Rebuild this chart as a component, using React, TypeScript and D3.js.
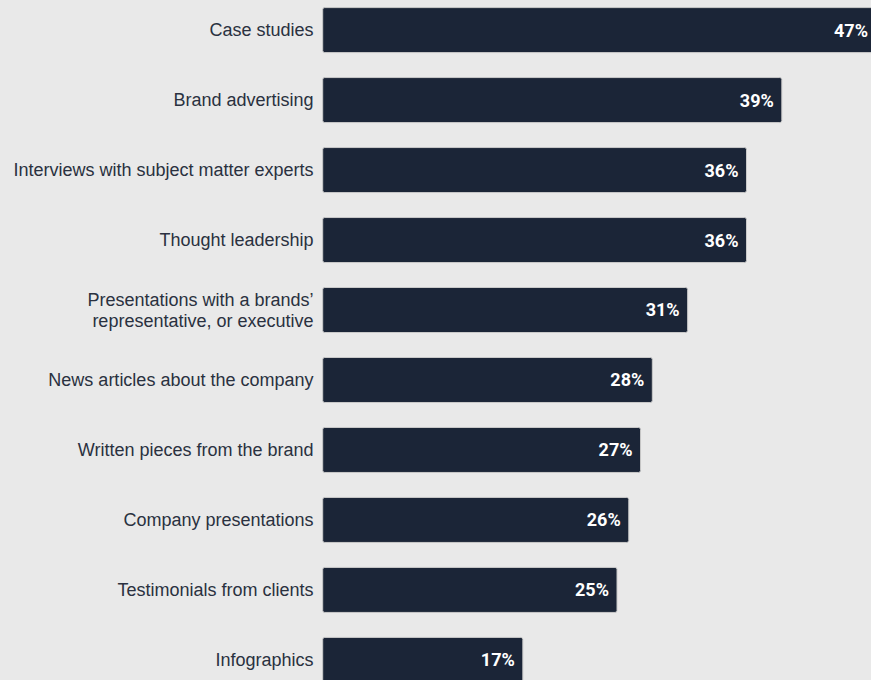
import React from "react";
import * as d3 from "d3";

const categories: string[][] = [
  ["Case studies"],
  ["Brand advertising"],
  ["Interviews with subject matter experts"],
  ["Thought leadership"],
  ["Presentations with a brands’", "representative, or executive"],
  ["News articles about the company"],
  ["Written pieces from the brand"],
  ["Company presentations"],
  ["Testimonials from clients"],
  ["Infographics"],
];
const values: number[] = [47, 39, 36, 36, 31, 28, 27, 26, 25, 17];

const W = 871;
const H = 680;
const BG = "#e9e9e9";
const BAR = "#1b2537";

export default function App() {
  const x = d3.scaleLinear().domain([0, 47]).range([322.7, 876]);
  const y = d3
    .scaleBand<number>()
    .domain(d3.range(values.length))
    .range([-5, 695])
    .paddingInner(0.357)
    .paddingOuter(0.18);

  return (
    <div style={{ position: "fixed", left: 0, top: 0, width: W, height: H, background: BG }}>
      <svg width={W} height={H} style={{ display: "block" }}>
        <rect width={W} height={H} fill={BG} />
        {values.map((v, i) => {
          const y0 = y(i)!;
          const bh = y.bandwidth();
          const cy = y0 + bh / 2;
          const lines = categories[i];
          const lh = 21.5;
          return (
            <g key={i}>
              <rect
                x={x(0)}
                y={y0}
                width={x(v) - x(0)}
                height={bh}
                rx={2}
                fill={BAR}
                stroke="#c9c9c9"
                strokeWidth={1}
              />
              <text
                x={x(v) - 8}
                y={cy}
                dy="0.36em"
                textAnchor="end"
                fill="#ffffff"
                fontFamily="Roboto, sans-serif"
                fontWeight={700}
                fontSize={18}
              >
                {v}%
              </text>
              <text
                x={313.5}
                textAnchor="end"
                fill="#2a3140"
                fontFamily="'Liberation Sans', Arial, sans-serif"
                fontSize={18}
              >
                {lines.map((t, j) => (
                  <tspan
                    key={j}
                    x={313.5}
                    y={cy + (j - (lines.length - 1) / 2) * lh}
                    dy="0.35em"
                  >
                    {t}
                  </tspan>
                ))}
              </text>
            </g>
          );
        })}
      </svg>
    </div>
  );
}
